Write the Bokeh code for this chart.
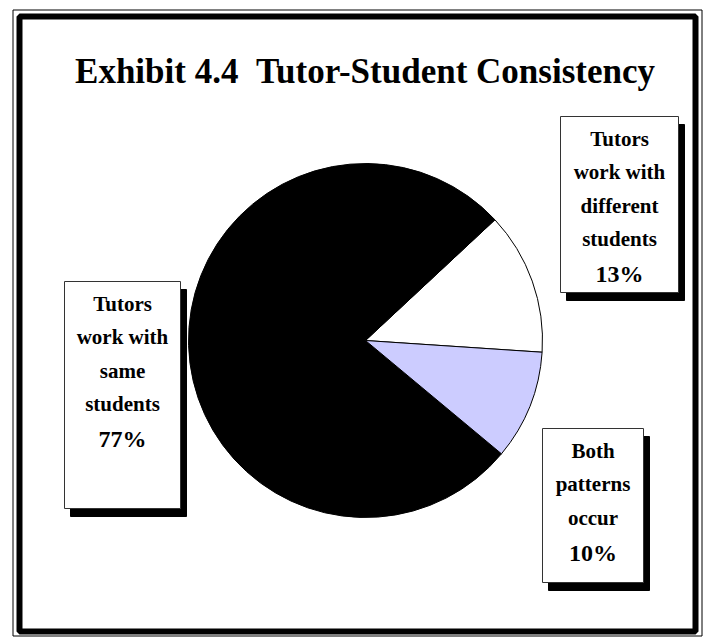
import math
from bokeh.plotting import figure
from bokeh.models import Range1d, ColumnDataSource
from bokeh.core.properties import value
from bokeh.embed import file_html
from bokeh.resources import INLINE

# ---- data ----
categories = ["Tutors work with different students", "Tutors work with same students", "Both patterns occur"]
shares = [13, 77, 10]
label_lines = [["Tutors", "work with", "different", "students"],
               ["Tutors", "work with", "same", "students"],
               ["Both", "patterns", "occur"]]
title_text = "Exhibit 4.4\u00a0\u00a0Tutor-Student Consistency"

# ---- layout (page pixel coordinates) ----
W, H = 707, 637
def X(px): return px
def Y(py): return H - py

TXT_OFF = -10  # compensation for text baseline placement

slice_colors = ["#FFFFFF", "#000000", "#CCCCFF"]
start_deg = -3.8
cx, cy, rad = 365, 340, 177
boxes = [(560, 116, 678, 292), (64, 281, 180, 508), (542, 428, 643, 582)]
shadow_dx, shadow_dy = 6, 8
FONT = "Liberation Serif"

p = figure(width=W, height=H, output_backend="svg", toolbar_location=None,
           x_range=Range1d(0, W), y_range=Range1d(0, H), min_border=0)
p.axis.visible = False
p.grid.visible = False
p.outline_line_color = None
p.background_fill_color = "white"
p.border_fill_color = "white"

# frame
p.quad(left=[X(12.5)], right=[X(701.5)], top=[Y(9.5)], bottom=[Y(635.5)],
       fill_alpha=0, line_color="black", line_width=1)
p.quad(left=[X(19)], right=[X(695)], top=[Y(16)], bottom=[Y(631)],
       fill_alpha=0, line_color="black", line_width=6)

# title
p.text(x=[X(364.5)], y=[Y(81 + TXT_OFF)], text=[title_text], text_font=value(FONT),
       text_font_style="bold", text_font_size="35px", text_align="center",
       text_baseline="alphabetic", text_color="black")

# pie
total = sum(shares)
starts, ends = [], []
a = math.radians(start_deg)
for s in shares:
    starts.append(a)
    a += 2 * math.pi * s / total
    ends.append(a)
src = ColumnDataSource(dict(start=starts, end=ends, color=slice_colors, cat=categories))
p.wedge(x=X(cx), y=Y(cy), radius=rad, start_angle="start", end_angle="end",
        fill_color="color", line_color="black", line_width=1, source=src)

# label boxes
for (l, t, r, b), lines, pct in zip(boxes, label_lines, shares):
    p.quad(left=[X(l + shadow_dx)], right=[X(r + shadow_dx)], top=[Y(t + shadow_dy)],
           bottom=[Y(b + shadow_dy)], fill_color="black", line_color="black")
    p.quad(left=[X(l)], right=[X(r)], top=[Y(t)], bottom=[Y(b)],
           fill_color="white", line_color="#333333", line_width=1)
    xc = (l + r) / 2
    ys = [t + 32 + 33.5 * i for i in range(len(lines))]
    p.text(x=[X(xc)] * len(lines), y=[Y(v + TXT_OFF) for v in ys], text=lines,
           text_font=value(FONT), text_font_style="bold", text_font_size="21px",
           text_align="center", text_baseline="alphabetic", text_color="black")
    p.text(x=[X(xc)], y=[Y(ys[-1] + 35 + TXT_OFF)], text=[f"{pct}%"],
           text_font=value(FONT), text_font_style="bold", text_font_size="24px",
           text_align="center", text_baseline="alphabetic", text_color="black")

open("out.html", "w").write(file_html(p, INLINE))
